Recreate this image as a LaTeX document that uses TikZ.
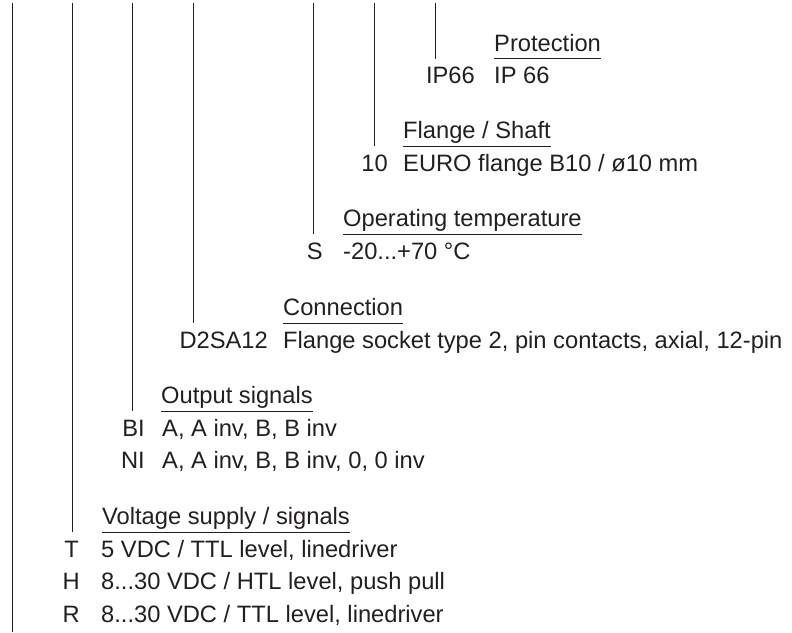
\documentclass[tikz,border=0pt]{standalone}
\usepackage{fontspec}
\setmainfont{Liberation Sans}
\usepackage{tikz}
\definecolor{inkgray}{HTML}{231F20}

\begin{document}
\begin{tikzpicture}[x=1pt, y=-1pt,
    font=\fontsize{23.7}{28}\selectfont,
    desc/.style={inner sep=0, anchor=base west, text=inkgray},
    code/.style={inner sep=0, anchor=base east, text=inkgray},
    keyline/.style={line width=0.8pt, draw=inkgray}]
    \useasboundingbox (0,0) rectangle (792,632);

                % protection
                \node[desc](protHead) at (494,51) {Protection};
                \node[code](protCode) at (475,83) {IP66};
                \node[desc](protText) at (494,83) {IP 66};
                % flange / shaft
                \node[desc](flangeHead) at (403,138.5) {Flange / Shaft};
                \node[code](flangeCode) at (388,171) {10};
                \node[desc](flangeText) at (403,171) {EURO flange B10 / ø10 mm};
                % operating temperature
                \node[desc](tempHead) at (343,226.5) {Operating temperature};
                \node[code](tempCode) at (323,259) {S};
                \node[desc](tempText) at (343,259) {-20...+70 °C};
                % connection
                \node[desc](connHead) at (283,315.5) {Connection};
                \node[code](connCode) at (268,348) {D2SA12};
                \node[desc](connText) at (283,348) {Flange socket type 2, pin contacts, axial, 12-pin};
                % output signals
                \node[desc](outHead) at (161,403.5) {Output signals};
                \node[code](outCodeBI) at (145,436) {BI};
                \node[desc](outTextBI) at (162,436) {A, A inv, B, B inv};
                \node[code](outCodeNI) at (145,468.5) {NI};
                \node[desc](outTextNI) at (162,468.5) {A, A inv, B, B inv, 0, 0 inv};
                % voltage supply
                \node[desc](voltHead) at (102,524.5) {Voltage supply / signals};
                \node[code](voltCodeT) at (79,557) {T};
                \node[desc](voltTextT) at (101,557) {5 VDC / TTL level, linedriver};
                \node[code](voltCodeH) at (80,589.5) {H};
                \node[desc](voltTextH) at (101,589.5) {8...30 VDC / HTL level, push pull};
                \node[code](voltCodeR) at (80,622) {R};
                \node[desc](voltTextR) at (101,622) {8...30 VDC / TTL level, linedriver};

                % underlines of the headings
                \foreach \head in {protHead, flangeHead, tempHead, connHead, outHead, voltHead}
                {
                    \coordinate (\head UL) at ([yshift=-7.5pt]\head.base west);
                    \draw[keyline] (\head UL) -- ([yshift=-7.5pt]\head.base east);
                }

                % key lines from the top
                \coordinate (typeTop) at (12,3);
                \coordinate (typeEnd) at (12,632);
                \coordinate (voltTop) at (72,3);
                \coordinate (outTop) at (132,3);
                \coordinate (connTop) at (193,3);
                \coordinate (tempTop) at (313,3);
                \coordinate (flangeTop) at (374,3);
                \coordinate (protTop) at (435,3);

                \draw[keyline] (typeTop) -- (typeEnd);
                \draw[keyline] (voltTop) -- (voltTop |- voltHeadUL);
                \draw[keyline] (outTop) -- (outTop |- outHeadUL);
                \draw[keyline] (connTop) -- (connTop |- connHeadUL);
                \draw[keyline] (tempTop) -- (tempTop |- tempHeadUL);
                \draw[keyline] (flangeTop) -- (flangeTop |- flangeHeadUL);
                \draw[keyline] (protTop) -- (protTop |- protHeadUL);

\end{tikzpicture}
\end{document}
